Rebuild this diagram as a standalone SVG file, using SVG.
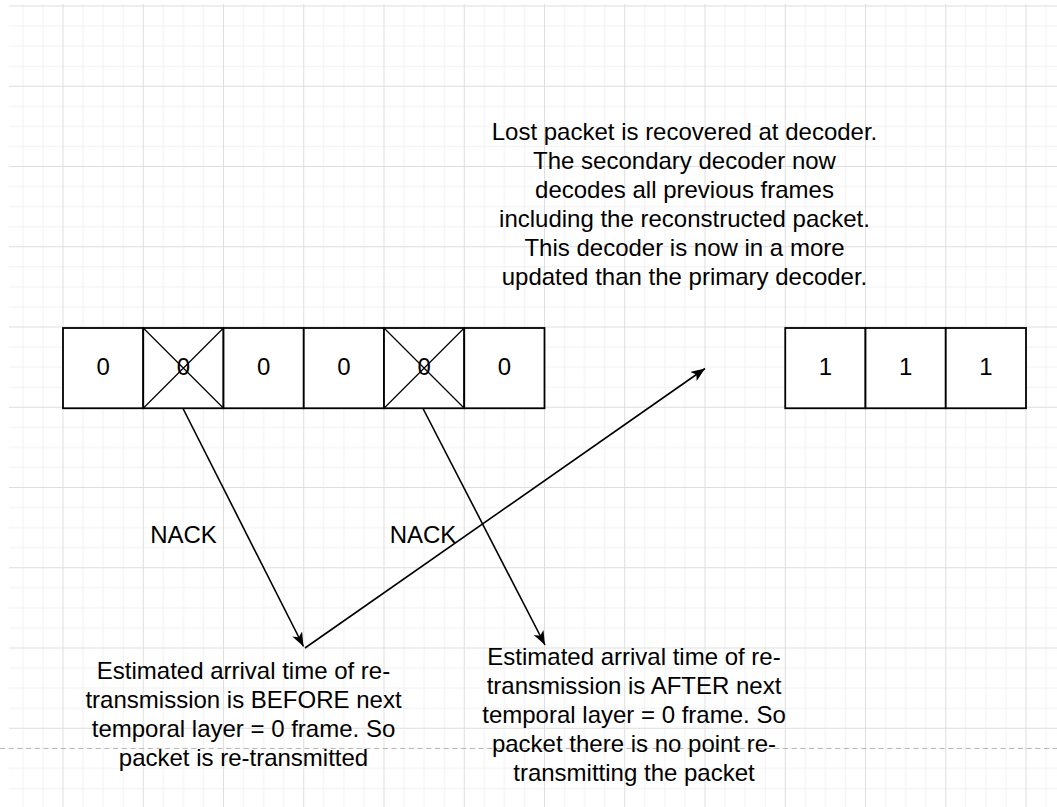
<svg xmlns="http://www.w3.org/2000/svg" width="1057" height="807" viewBox="0 0 1057 807">
  <style>
    .cell { fill: #ffffff; stroke: #000000; stroke-width: 1.8; }
    .x { stroke: #000000; stroke-width: 1.2; fill: none; }
    .t { font-family: "Liberation Sans", Arial, sans-serif; font-size: 24px; fill: #000000; text-anchor: middle; }
    .edge { stroke: #000000; stroke-width: 1.6; fill: none; marker-end: url(#arr); }
  </style>
  <defs>
    <pattern id="grid" patternUnits="userSpaceOnUse" x="62.5" y="5.5" width="80.25" height="80.25">
      <path d="M20.56,0V80.25M40.63,0V80.25M60.69,0V80.25M0,20.56H80.25M0,40.63H80.25M0,60.69H80.25" stroke="#f1f1f1" stroke-width="1" fill="none"/>
      <path d="M0.5,0V80.25M0,0.5H80.25" stroke="#dedede" stroke-width="1" fill="none"/>
    </pattern>
    <marker id="arr" markerUnits="userSpaceOnUse" markerWidth="14" markerHeight="11" viewBox="0 0 14 11" refX="14" refY="5.5" orient="auto">
      <path d="M0,0 L14,5.5 L0,11 L3.5,5.5 Z" fill="#000000"/>
    </marker>
  </defs>

  <rect x="0" y="0" width="1057" height="807" fill="#ffffff"/>
  <rect x="9" y="4" width="1048" height="803" fill="url(#grid)"/>
  <line x1="0" y1="748.5" x2="1057" y2="748.5" stroke="#b8b8b8" stroke-width="1" stroke-dasharray="5 3.7"/>

  <g id="frames-left">
    <g id="cell-1"><rect class="cell" x="63" y="328" width="80.25" height="80.25"/><text class="t" x="103.1" y="375">0</text></g>
    <g id="cell-2"><rect class="cell" x="143.25" y="328" width="80.25" height="80.25"/><text class="t" x="183.4" y="375">0</text><path class="x" d="M143.25,328L223.5,408.25M223.5,328L143.25,408.25"/></g>
    <g id="cell-3"><rect class="cell" x="223.5" y="328" width="80.25" height="80.25"/><text class="t" x="263.6" y="375">0</text></g>
    <g id="cell-4"><rect class="cell" x="303.75" y="328" width="80.25" height="80.25"/><text class="t" x="343.9" y="375">0</text></g>
    <g id="cell-5"><rect class="cell" x="384" y="328" width="80.25" height="80.25"/><text class="t" x="424.1" y="375">0</text><path class="x" d="M384,328L464.25,408.25M464.25,328L384,408.25"/></g>
    <g id="cell-6"><rect class="cell" x="464.25" y="328" width="80.25" height="80.25"/><text class="t" x="504.4" y="375">0</text></g>
  </g>

  <g id="frames-right">
    <g id="cell-7"><rect class="cell" x="785.25" y="328" width="80.25" height="80.25"/><text class="t" x="825.4" y="375">1</text></g>
    <g id="cell-8"><rect class="cell" x="865.5" y="328" width="80.25" height="80.25"/><text class="t" x="905.6" y="375">1</text></g>
    <g id="cell-9"><rect class="cell" x="945.75" y="328" width="80.25" height="80.25"/><text class="t" x="985.9" y="375">1</text></g>
  </g>

  <g id="connectors">
    <line class="edge" x1="183" y1="408.5" x2="303.5" y2="646.5"/>
    <line class="edge" x1="423" y1="408.5" x2="545" y2="645"/>
    <line class="edge" x1="305" y1="648" x2="705" y2="368.5"/>
  </g>

  <g id="label-nack-1"><text class="t" x="183.5" y="543">NACK</text></g>
  <g id="label-nack-2"><text class="t" x="423" y="543">NACK</text></g>

  <g id="note-recovered">
    <text class="t" x="684.5" y="140">Lost packet is recovered at decoder.</text>
    <text class="t" x="684.5" y="168.9">The secondary decoder now</text>
    <text class="t" x="684.5" y="197.8">decodes all previous frames</text>
    <text class="t" x="684.5" y="226.7">including the reconstructed packet.</text>
    <text class="t" x="684.5" y="255.6">This decoder is now in a more</text>
    <text class="t" x="684.5" y="284.5">updated than the primary decoder.</text>
  </g>

  <g id="note-before">
    <text class="t" x="243.5" y="679">Estimated arrival time of re-</text>
    <text class="t" x="243.5" y="707.9">transmission is BEFORE next</text>
    <text class="t" x="243.5" y="736.8">temporal layer = 0 frame. So</text>
    <text class="t" x="243.5" y="765.7">packet is re-transmitted</text>
  </g>

  <g id="note-after">
    <text class="t" x="634" y="665.2">Estimated arrival time of re-</text>
    <text class="t" x="634" y="694.1">transmission is AFTER next</text>
    <text class="t" x="634" y="723">temporal layer = 0 frame. So</text>
    <text class="t" x="634" y="751.9">packet there is no point re-</text>
    <text class="t" x="634" y="780.8">transmitting the packet</text>
  </g>
</svg>
